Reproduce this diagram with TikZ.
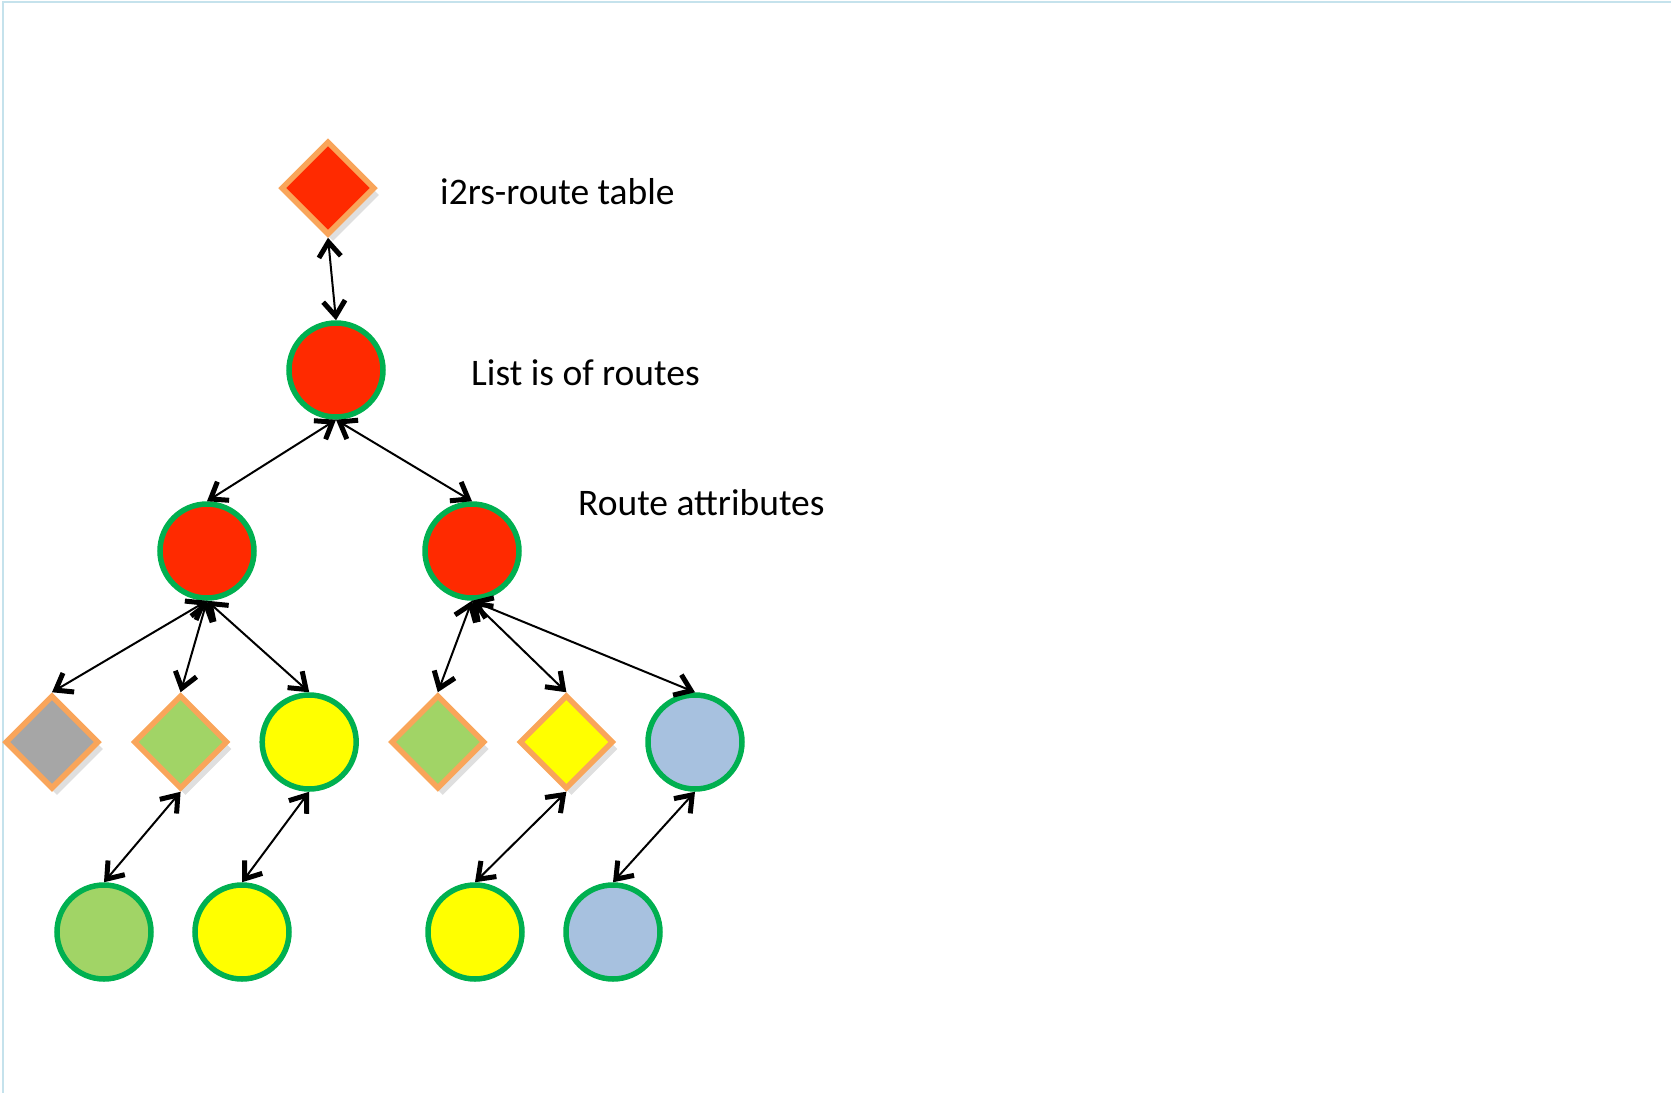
\documentclass[tikz,border=0pt]{standalone}
\usepackage{fontspec}
\setmainfont{Carlito}
\usepackage{xcolor}
\usepackage{tikz}
\usetikzlibrary{positioning,shapes.geometric,arrows.meta,shadows}

\definecolor{nodered}{HTML}{FF2A00}
\definecolor{ringgreen}{HTML}{00B050}
\definecolor{edgeorange}{HTML}{F9A55A}
\definecolor{stonegray}{HTML}{A6A6A6}
\definecolor{leafgreen}{HTML}{A1D466}
\definecolor{sunyellow}{HTML}{FFFF00}
\definecolor{skyblue}{HTML}{A7C1DF}
\definecolor{frameblue}{HTML}{C5E2EC}

\begin{document}
\begin{tikzpicture}[x=1pt, y=-1pt, node distance=128.6pt, auto,
    circ/.style={circle, draw=ringgreen, line width=5.5pt, inner sep=0pt, minimum size=94pt},
    dmd/.style={diamond, draw=edgeorange, line width=5.5pt, inner sep=0pt, minimum size=94pt,
        drop shadow={shadow xshift=5pt, shadow yshift=-7pt, opacity=0.25}},
    link/.style={{Straight Barb[length=15pt,width=22pt,line width=5pt]}-{Straight Barb[length=15pt,width=22pt,line width=5pt]}, line width=2pt},
    lbl/.style={anchor=west, inner sep=0pt, font=\fontsize{37.5}{45}\selectfont}]
        \useasboundingbox (0,0) rectangle (1671,1093);
        \draw[frameblue, line width=2pt] (3,1093) -- (3,2) -- (1671,2);

        \node (lst) [circ, fill=nodered] at (336,370) {};
        \node (tbl) [dmd, fill=nodered, above of=lst, node distance=182pt, xshift=-8pt] {};

        \node (ra1) [circ, fill=nodered] at (207,551) {};
        \node (ra2) [circ, fill=nodered, right of=ra1, node distance=265pt] {};

        \node (a1) [dmd, fill=stonegray] at (52,742) {};
        \node (a2) [dmd, fill=leafgreen, right of=a1] {};
        \node (a3) [circ, fill=sunyellow, right of=a2] {};
        \node (b1) [dmd, fill=leafgreen, right of=a3] {};
        \node (b2) [dmd, fill=sunyellow, right of=b1] {};
        \node (b3) [circ, fill=skyblue, right of=b2] {};

        \node (c1) [circ, fill=leafgreen] at (104,932) {};
        \node (c2) [circ, fill=sunyellow, right of=c1, node distance=138pt] {};
        \node (d1) [circ, fill=sunyellow, right of=c2, node distance=233pt] {};
        \node (d2) [circ, fill=skyblue, right of=d1, node distance=138pt] {};

        \node (tbltxt) [lbl] at (440,192) {i2rs-route table};
        \node (lsttxt) [lbl] at (471,373) {List is of routes};
        \node (ratxt) [lbl] at (578,503) {Route attributes};

        \draw[link] (tbl.south) -- (lst.north);
        \draw[link] (lst.south) -- (ra1.north);
        \draw[link] (lst.south) -- (ra2.north);

        \draw[link] (ra1.south) -- (a1.north);
        \draw[link] (ra1.south) -- (a2.north);
        \draw[link] (ra1.south) -- (a3.north);
        \draw[link] (ra2.south) -- (b1.north);
        \draw[link] (ra2.south) -- (b2.north);
        \draw[link] (ra2.south) -- (b3.north);

        \draw[link] (a2.south) -- (c1.north);
        \draw[link] (a3.south) -- (c2.north);
        \draw[link] (b2.south) -- (d1.north);
        \draw[link] (b3.south) -- (d2.north);
    \end{tikzpicture}
\end{document}
